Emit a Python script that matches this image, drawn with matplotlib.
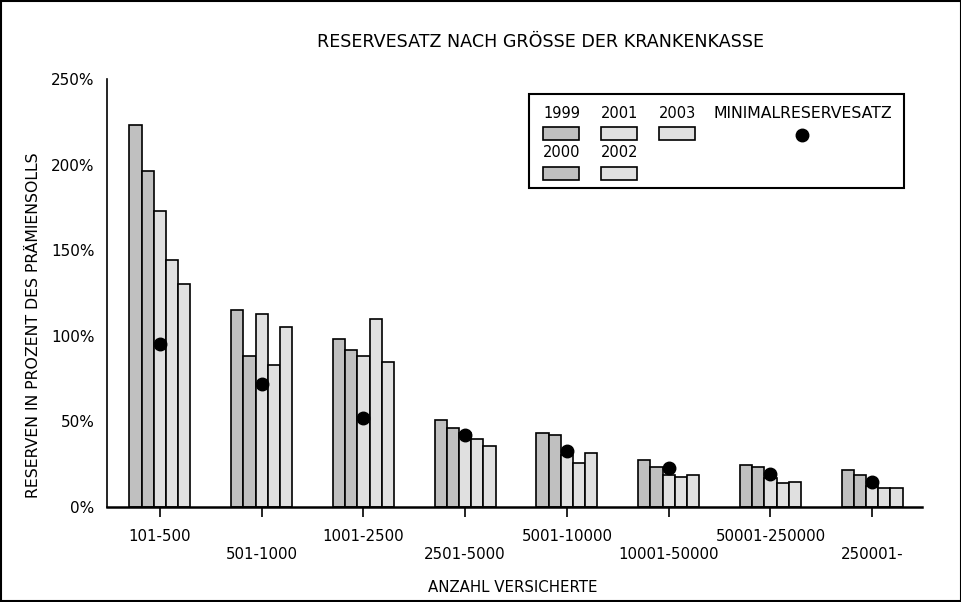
import numpy as np
import matplotlib.pyplot as plt
from matplotlib.patches import Rectangle

# Daten
groessen = ['101-500', '501-1000', '1001-2500', '2501-5000', '5001-10000',
            '10001-50000', '50001-250000', '250001-']
jahre = ['1999', '2000', '2001', '2002', '2003']
r1999 = [223, 115, 98, 51, 43.4, 27.5, 24.5, 21.6]
r2000 = [196, 88, 91.5, 46.4, 42.3, 23.5, 23.5, 18.7]
r2001 = [173, 112.5, 88, 43.5, 30.6, 18.7, 16.8, 12.3]
r2002 = [144, 83, 110, 39.6, 25.5, 17.7, 13.8, 10.9]
r2003 = [130, 105, 84.5, 35.7, 31.4, 18.7, 14.8, 10.9]
minimal = [95.5, 72, 52, 42, 33, 23, 19.3, 14.4]

farben = ['#c0c0c0', '#c0c0c0', '#e0e0e0', '#e0e0e0', '#e0e0e0']

plt.rcParams['font.family'] = ['DejaVu Sans']
fig = plt.figure(figsize=(9.62, 6.02), dpi=100)
W, H = 962, 602
ax = fig.add_axes([107 / W, 1 - 507 / H, 815 / W, 428 / H])

x = np.arange(len(groessen))
bw = 0.12
serien = [r1999, r2000, r2001, r2002, r2003]
for i, (s, c) in enumerate(zip(serien, farben)):
    ax.bar(x + (i - 2) * bw, s, width=bw, color=c, edgecolor='black', linewidth=1.2)
ax.plot(x, minimal, 'o', color='black', markersize=9, zorder=5)

ax.set_xlim(-0.52, 7.49)
ax.set_ylim(0, 250)
ax.set_yticks([0, 50, 100, 150, 200, 250])
ax.set_yticklabels(['0%', '50%', '100%', '150%', '200%', '250%'], fontsize=11)
ax.set_xticks(x)
# jede zweite Beschriftung eine Zeile tiefer
ax.set_xticklabels([g if i % 2 == 0 else '\n' + g for i, g in enumerate(groessen)], fontsize=10.8)
for lab in ax.get_xticklabels():
    lab.set_linespacing(1.3)
ax.tick_params(axis='x', direction='out', length=7, width=1.2, pad=8.5)
ax.tick_params(axis='y', length=0, pad=9)
ax.spines['top'].set_visible(False)
ax.spines['right'].set_visible(False)
ax.spines['left'].set_linewidth(1.2)
ax.spines['bottom'].set_linewidth(1.8)

fig.text(541 / W, 1 - 42 / H, 'RESERVESATZ NACH GRÖSSE DER KRANKENKASSE',
         ha='center', va='center', fontsize=12.6)
fig.text(34 / W, 1 - 325 / H, 'RESERVEN IN PROZENT DES PRÄMIENSOLLS',
         ha='center', va='center', rotation=90, fontsize=11.3)
fig.text(513 / W, 1 - 587 / H, 'ANZAHL VERSICHERTE', ha='center', va='center', fontsize=10.8)

# Legende von Hand (Beschriftung über dem Symbol)
def px(xp, yp):
    return xp / W, 1 - yp / H

fig.patches.append(Rectangle(px(529, 188), (904 - 529) / W, (188 - 94) / H,
                             transform=fig.transFigure, fill=False, lw=1.5, ec='black'))
leg_pos = [(543, 113, 127), (543, 153, 167), (601, 113, 127), (601, 153, 167), (659, 113, 127)]
for j, (lx, ty, sy) in enumerate(leg_pos):
    fig.text(*px(lx, ty), jahre[j], ha='left', va='center', fontsize=10.5)
    fig.patches.append(Rectangle(px(lx, sy + 13), 36 / W, 13 / H, transform=fig.transFigure,
                                 fc=farben[j], ec='black', lw=1.2))
fig.text(*px(714, 113), 'MINIMALRESERVESATZ', ha='left', va='center', fontsize=11.3)
fig.lines.append(plt.Line2D([802 / W], [1 - 135 / H], marker='o', color='black',
                            markersize=9, transform=fig.transFigure))

fig.patches.append(Rectangle((0.001, 0.001), 0.998, 0.997, transform=fig.transFigure,
                             fill=False, lw=1.5, ec='black'))

fig.savefig('out.png', dpi=100)
